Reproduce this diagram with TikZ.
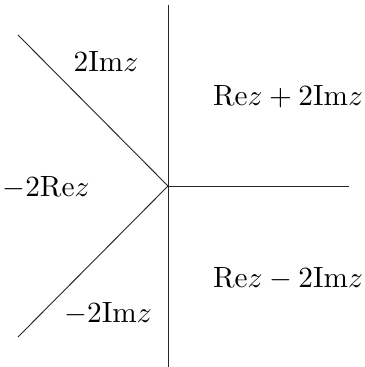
\documentclass[tikz,border=0pt]{standalone}
\usepackage{amsmath,amssymb}
\usepackage{tikz}
\usetikzlibrary{positioning, calc}

\begin{document}
\begin{tikzpicture}[
    x=0.012cm, y=-0.012cm,
    axis/.style={draw=black!85, line width=0.32pt},
    region/.style={inner sep=0pt, font=\normalsize}
]
\useasboundingbox (0,0) rectangle (365,367);

\coordinate (origin) at (168,186);
\coordinate (top) at (168,5);
\coordinate (bottom) at (168,367);
\coordinate (right) at (349,186);
\coordinate (upleft) at (18,35);
\coordinate (lowleft) at (18,337);

\node[region] (upper) at (106,61) {$2\mathrm{Im}z$};
\node[region] (sum) at (288,97) {$\mathrm{Re}z+2\mathrm{Im}z$};
\node[region] (west) at (46,188) {$-2\mathrm{Re}z$};
\node[region] (diff) at (288,279) {$\mathrm{Re}z-2\mathrm{Im}z$};
\node[region] (lower) at (108,314) {$-2\mathrm{Im}z$};

\draw[axis] (top) -- (bottom);
\draw[axis] (origin) -- (right);
\draw[axis] (origin) -- (upleft);
\draw[axis] (origin) -- (lowleft);

\end{tikzpicture}
\end{document}
